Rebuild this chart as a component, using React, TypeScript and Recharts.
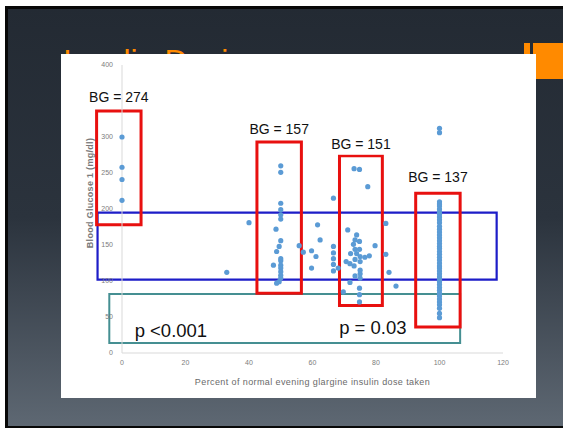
import React from 'react';
import {
  ScatterChart,
  Scatter,
  XAxis,
  YAxis,
  ReferenceArea,
  ReferenceDot,
  Label,
} from 'recharts';

// Readings as [percent of normal evening glargine dose, blood glucose mg/dl]
const noDosePoints: [number, number][] = [
  [0, 300], [0, 258], [0, 241], [0, 212],
];
const lowDosePoints: [number, number][] = [
  [33, 112], [40, 181],
];
const halfDosePoints: [number, number][] = [
  [50, 260], [50, 251], [50, 208], [50, 199], [50, 192], [50, 186],
  [48.5, 172], [50, 156], [49.5, 148], [48.7, 141], [50, 131], [50, 128],
  [47.7, 122], [50, 122], [50, 118], [50, 113], [50, 108], [50, 104],
  [49.5, 99], [48.7, 97],
];
const midDosePoints: [number, number][] = [
  [55.8, 149], [57.1, 140], [59.7, 142], [61.1, 134], [59.7, 118],
  [61.6, 178], [62.4, 157], [66.6, 215], [66.6, 148], [66.6, 139],
  [66.6, 131], [66.6, 123], [66.6, 114], [68.1, 118], [69.7, 85],
  [71.1, 171], [71.8, 98],
];
const threeQuarterDosePoints: [number, number][] = [
  [73.1, 256], [74.8, 255], [77.4, 231], [73.9, 164], [73.4, 157],
  [74.8, 155], [72.9, 151], [72, 138], [73.4, 144], [74.8, 144],
  [73.9, 138], [75, 134], [73.4, 130], [70.6, 127], [71.8, 124],
  [73.1, 121], [75, 127], [76.5, 133], [77.9, 135], [75, 115],
  [75, 110], [73.4, 107], [75, 104], [74.8, 90], [74.8, 81],
  [74.8, 71], [79.7, 149],
];
const highDosePoints: [number, number][] = [
  [83.1, 180], [83.1, 137], [84.1, 112], [86.3, 93],
];
const fullDoseGlucose: number[] = [
  312, 306, 210, 207, 204, 200, 196, 193, 189, 185, 181, 176, 172, 168,
  164, 160, 156, 152, 148, 145, 141, 137, 133, 129, 125, 121, 118, 114,
  110, 106, 102, 99, 95, 91, 87, 83, 79, 75, 71, 67, 62, 55, 49,
];

const xTicks = [0, 20, 40, 60, 80, 100, 120];
const yTicks = [0, 50, 100, 150, 200, 250, 300, 400];

// Highlighted dose groups with their mean glucose
const groupLabels = ['BG = 274', 'BG = 157', 'BG = 151', 'BG = 137'];
const groupDoseFrom = [-8, 42.5, 68.5, 92.5];
const groupDoseTo = [6, 56.5, 82, 106.5];
const groupGlucoseLow = [178, 83, 66, 36];
const groupGlucoseHigh = [336, 293, 274, 222];

// Target glucose band and low band: [doseFrom, doseTo, low, high]
const targetBand = [-7.7, 118, 102, 195];
const lowBand = [-4, 106.5, 14, 82];

const pValueLabels = ['p <0.001', 'p = 0.03'];
const pValueDose = [15.4, 79];
const pValueGlucose = [32, 36];

const points = [
  ...noDosePoints,
  ...lowDosePoints,
  ...halfDosePoints,
  ...midDosePoints,
  ...threeQuarterDosePoints,
  ...highDosePoints,
  ...fullDoseGlucose.map((g) => [100, g] as [number, number]),
].map(([x, y]) => ({ x, y }));

const SANS = '"Liberation Sans", Arial, sans-serif';
const labelGaps = [9, 8.5, 7, 11];

const GroupTitle = (props: any) => {
  const { viewBox, value, gap } = props;
  if (!viewBox) return null;
  const cx = viewBox.x + viewBox.width / 2;
  const base = viewBox.y - gap;
  return (
    <g>
      <rect x={cx - 33} y={base - 22} width={66} height={28} fill="#ffffff" />
      <text x={cx} y={base} textAnchor="middle" fontSize={14} fontFamily={SANS} fill="#111111">
        {value}
      </text>
    </g>
  );
};

const YTitle = (props: any) => {
  const { viewBox } = props;
  if (!viewBox) return null;
  const x = 91;
  const y = viewBox.y + viewBox.height / 2 - 16;
  return (
    <text
      x={x}
      y={y}
      transform={`rotate(-90, ${x}, ${y})`}
      textAnchor="middle"
      dominantBaseline="middle"
      fontSize={9}
      fontWeight="bold"
      letterSpacing={0.3}
      fontFamily={SANS}
      fill="#7a7a7a"
    >
      Blood Glucose 1 (mg/dl)
    </text>
  );
};

const Dot = (props: any) => (
  <circle cx={props.cx} cy={props.cy} r={2.6} fill="#5b9bd5" />
);

export default function App() {
  const tickStyle = { fontSize: 7, fill: '#7c7c7c', fontFamily: SANS };
  return (
    <div style={{ position: 'absolute', left: 0, top: 0, width: 563, height: 428, overflow: 'hidden', background: '#ffffff' }}>
      <svg width={563} height={428} style={{ position: 'absolute', left: 0, top: 0 }}>
        <defs>
          <linearGradient id="slideBg" x1="0" y1="0" x2="0" y2="1">
            <stop offset="0" stopColor="#232a33" />
            <stop offset="0.5" stopColor="#2b333d" />
            <stop offset="1" stopColor="#5e6873" />
          </linearGradient>
          <clipPath id="titleClip">
            <rect x={0} y={0} width={563} height={54} />
          </clipPath>
        </defs>
        <rect x={6.5} y={7.5} width={600} height={420} fill="url(#slideBg)" stroke="#080808" strokeWidth={3} />
        <g clipPath="url(#titleClip)">
          <text x={63} y={72} fontSize={32} fontFamily={SANS} fill="#ff8a00">Insulin Dosing</text>
        </g>
        <rect x={524} y={43} width={6} height={36} fill="#ff8a00" />
        <rect x={533} y={43} width={40} height={36} fill="#ff8a00" />
        <rect x={61} y={54} width={475} height={344} fill="#ffffff" />
      </svg>
      <div style={{ position: 'absolute', left: 0, top: 0 }}>
        <ScatterChart width={563} height={428} margin={{ top: 65, right: 60, bottom: 35, left: 0 }}>
          <XAxis
            type="number"
            dataKey="x"
            domain={[0, 120]}
            ticks={xTicks}
            interval={0}
            height={40}
            axisLine={{ stroke: '#d9d9d9' }}
            tickLine={false}
            tickSize={0}
            tickMargin={7}
            tick={tickStyle}
          >
            <Label
              value="Percent of normal evening glargine insulin dose taken"
              position="insideBottom"
              offset={8}
              fontSize={9}
              letterSpacing={0.4}
              fontFamily={SANS}
              fill="#6a6a6a"
            />
          </XAxis>
          <YAxis
            type="number"
            dataKey="y"
            domain={[0, 400]}
            ticks={yTicks}
            interval={0}
            width={122}
            axisLine={{ stroke: '#d9d9d9' }}
            tickLine={false}
            tickSize={0}
            tickMargin={9}
            tick={tickStyle}
          >
            <Label content={<YTitle />} position="insideLeft" />
          </YAxis>
          <Scatter data={points} shape={<Dot />} isAnimationActive={false} />
          <ReferenceArea
            x1={targetBand[0]}
            x2={targetBand[1]}
            y1={targetBand[2]}
            y2={targetBand[3]}
            ifOverflow="visible"
            fill="none"
            fillOpacity={0}
            stroke="#1d1dc8"
            strokeWidth={2.2}
          />
          <ReferenceArea
            x1={lowBand[0]}
            x2={lowBand[1]}
            y1={lowBand[2]}
            y2={lowBand[3]}
            ifOverflow="visible"
            fill="none"
            fillOpacity={0}
            stroke="#458f92"
            strokeWidth={2}
          />
          {groupLabels.map((label, i) => (
            <ReferenceArea
              key={label}
              x1={groupDoseFrom[i]}
              x2={groupDoseTo[i]}
              y1={groupGlucoseLow[i]}
              y2={groupGlucoseHigh[i]}
              ifOverflow="visible"
              fill="none"
              fillOpacity={0}
              stroke="#e8100f"
              strokeWidth={3}
              label={(props: any) => <GroupTitle {...props} value={label} gap={labelGaps[i]} />}
            />
          ))}
          {pValueLabels.map((label, i) => (
            <ReferenceDot
              key={label}
              x={pValueDose[i]}
              y={pValueGlucose[i]}
              r={0}
              fill="none"
              stroke="none"
              ifOverflow="visible"
              label={{ value: label, position: 'center', fontSize: 18.5, fill: '#111111', fontFamily: SANS }}
            />
          ))}
        </ScatterChart>
      </div>
    </div>
  );
}
